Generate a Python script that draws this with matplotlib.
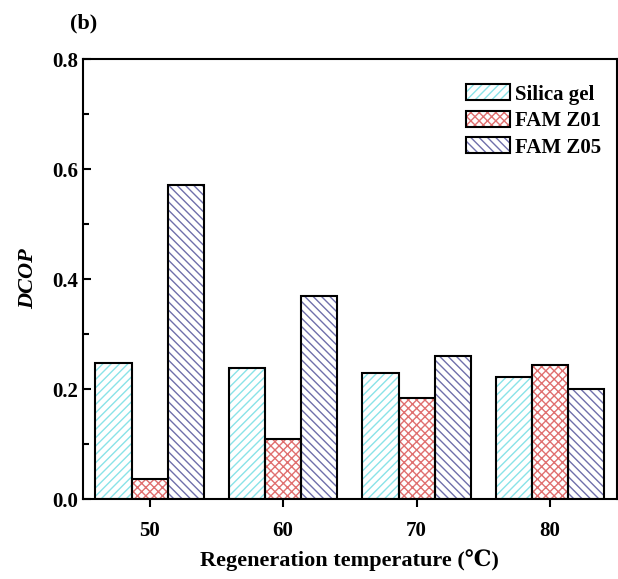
import numpy as np
import matplotlib
matplotlib.use('Agg')
import matplotlib.pyplot as plt
from matplotlib.patches import Patch

plt.rcParams['font.family'] = ['Liberation Serif', 'DejaVu Serif']
plt.rcParams['font.weight'] = 'bold'
plt.rcParams['hatch.linewidth'] = 1.0

# regeneration temperatures and DCOP values
temps = [50, 60, 70, 80]
silica = [0.248, 0.238, 0.230, 0.222]
famz01 = [0.036, 0.110, 0.183, 0.243]
famz05 = [0.571, 0.369, 0.261, 0.201]
names = ['Silica gel', 'FAM Z01', 'FAM Z05']

series = [silica, famz01, famz05]
hatches = ['////', 'xxxx', '\\\\\\\\']
hcolors = ['#8ae3e8', '#e07070', '#6f6fab']

fig = plt.figure(figsize=(6.18, 5.79), dpi=100)
ax = fig.add_axes([0.134, 0.138, 0.864, 0.760])

w = 2.7
x = np.array(temps, dtype=float)
handles = []
for i, (vals, h, c) in enumerate(zip(series, hatches, hcolors)):
    pos = x + (i - 1) * w
    ax.bar(pos, vals, w, color='white', edgecolor=c, hatch=h, linewidth=0, zorder=2)
    ax.bar(pos, vals, w, fill=False, edgecolor='black', linewidth=1.5, zorder=3)
    p1 = Patch(facecolor='white', edgecolor=c, hatch=h, linewidth=0)
    p2 = Patch(fill=False, edgecolor='black', linewidth=1.5)
    handles.append((p1, p2))

ax.set_xlim(45, 85)
ax.set_ylim(0, 0.8)
ax.set_xticks(temps)
ax.set_yticks([0.0, 0.2, 0.4, 0.6, 0.8])
ax.set_yticks([0.1, 0.3, 0.5, 0.7], minor=True)
ax.yaxis.set_major_formatter(matplotlib.ticker.FormatStrFormatter('%.1f'))
ax.tick_params(axis='y', which='both', direction='in', labelsize=15, width=1.5)
ax.tick_params(axis='y', which='major', length=6)
ax.tick_params(axis='y', which='minor', length=4)
ax.tick_params(axis='x', direction='out', length=6, width=1.5, labelsize=15, pad=10)
for s in ax.spines.values():
    s.set_linewidth(1.5)

ax.set_xlabel('Regeneration temperature (\u2103)', fontsize=16, fontweight='bold', labelpad=6)
ax.set_ylabel('DCOP', fontsize=16, fontweight='bold', style='italic', labelpad=10)

leg = ax.legend(handles, names, loc='upper right', bbox_to_anchor=(1.006, 0.985),
                frameon=False, fontsize=15, handlelength=2.1, handleheight=0.8,
                labelspacing=0.3, handletextpad=0.25)

fig.text(0.113, 0.95, '(b)', fontsize=16, fontweight='bold')

fig.savefig('out.png', dpi=100)
